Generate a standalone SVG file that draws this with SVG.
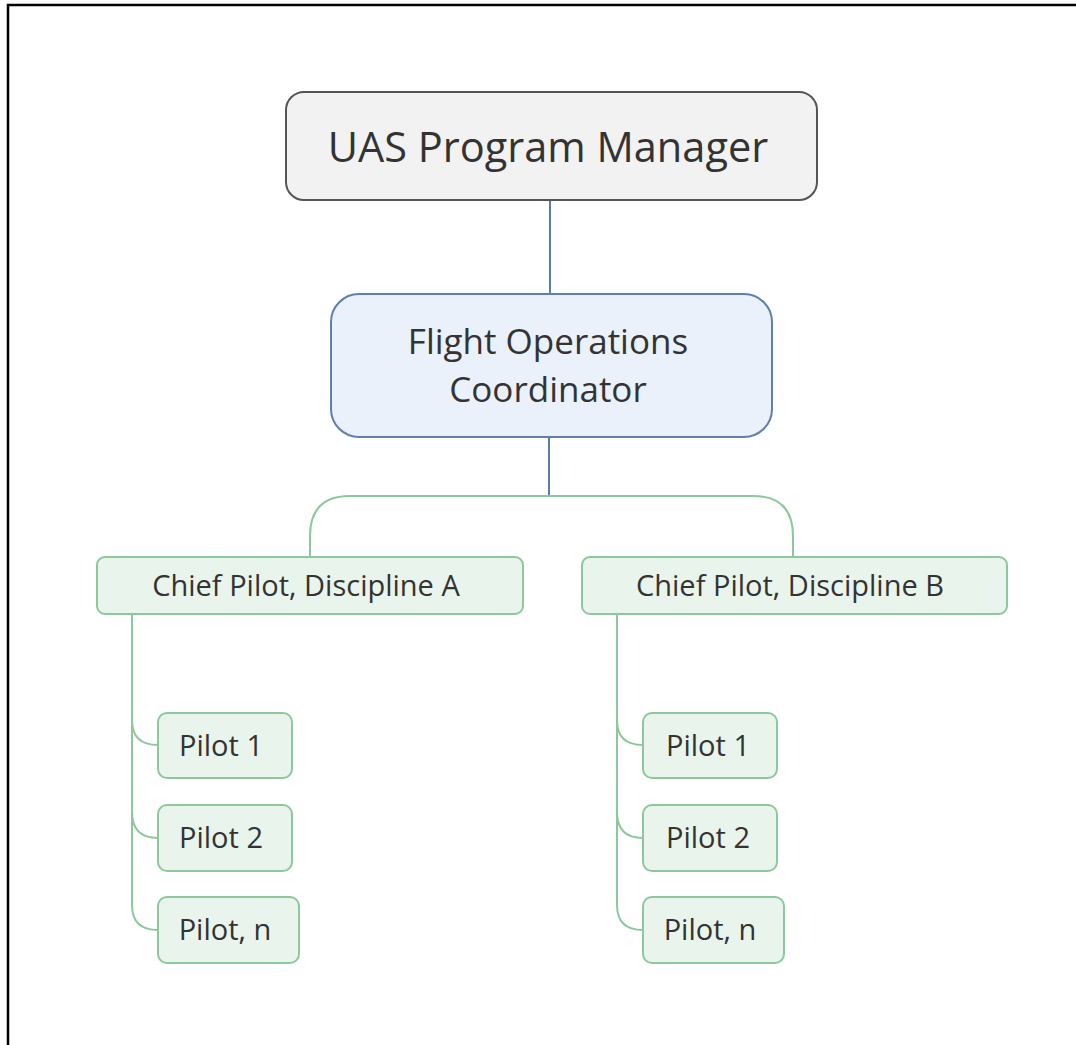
<svg xmlns="http://www.w3.org/2000/svg" width="1076" height="1045" viewBox="0 0 1076 1045">
  <style>
    text { font-family: "Open Sans", "Noto Sans", "Liberation Sans", sans-serif; fill: #333333; text-anchor: middle; }
    .root rect { fill: #f2f2f2; stroke: #555555; stroke-width: 2; }
    .coord rect { fill: #eaf1fb; stroke: #5d80ad; stroke-width: 2; }
    .leaf rect { fill: #e9f5ec; stroke: #8dc89c; stroke-width: 2; }
    .blue { fill: none; stroke: #5a7ca8; stroke-width: 2; }
    .green { fill: none; stroke: #8dc89c; stroke-width: 2; }
    .big { font-size: 41.5px; }
    .mid { font-size: 35px; }
    .small { font-size: 29px; }
  </style>

  <!-- page frame -->
  <rect x="0" y="0" width="1076" height="1045" fill="#ffffff"/>
  <path d="M8 1045 V5 H1076" fill="none" stroke="#000000" stroke-width="2.5"/>

  <g id="connectors">
    <line class="blue" x1="550" y1="200" x2="550" y2="294"/>
    <line class="blue" x1="549" y1="437" x2="549" y2="496"/>
    <path class="green" d="M549 496 H350 Q310 496 310 536 V557"/>
    <path class="green" d="M549 496 H753 Q793 496 793 536 V557"/>
    <!-- discipline A pilots -->
    <path class="green" d="M132 614 V720 Q132 745 158 745"/>
    <path class="green" d="M132 675 V812 Q132 838 158 838"/>
    <path class="green" d="M132 675 V905 Q132 930 158 930"/>
    <!-- discipline B pilots -->
    <path class="green" d="M617 614 V720 Q617 745 643 745"/>
    <path class="green" d="M617 675 V812 Q617 838 643 838"/>
    <path class="green" d="M617 675 V905 Q617 930 643 930"/>
  </g>

  <g id="program-manager" class="root">
    <rect x="286" y="92" width="531" height="108" rx="18"/>
    <text class="big" x="548" y="162">UAS Program Manager</text>
  </g>

  <g id="flight-ops" class="coord">
    <rect x="331" y="294" width="441" height="143" rx="28"/>
    <text class="mid" x="548" y="354">Flight Operations</text>
    <text class="mid" x="548" y="402">Coordinator</text>
  </g>

  <g id="chief-a" class="leaf">
    <rect x="97" y="557" width="426" height="57" rx="8"/>
    <text class="small" x="306" y="596">Chief Pilot, Discipline A</text>
  </g>
  <g id="chief-b" class="leaf">
    <rect x="582" y="557" width="425" height="57" rx="8"/>
    <text class="small" x="790" y="596">Chief Pilot, Discipline B</text>
  </g>

  <g id="a-pilot-1" class="leaf">
    <rect x="158" y="713" width="134" height="65" rx="9"/>
    <text class="small" x="221" y="756">Pilot 1</text>
  </g>
  <g id="a-pilot-2" class="leaf">
    <rect x="158" y="805" width="134" height="66" rx="9"/>
    <text class="small" x="221" y="848">Pilot 2</text>
  </g>
  <g id="a-pilot-n" class="leaf">
    <rect x="158" y="897" width="141" height="66" rx="9"/>
    <text class="small" x="225" y="940">Pilot, n</text>
  </g>

  <g id="b-pilot-1" class="leaf">
    <rect x="643" y="713" width="134" height="65" rx="9"/>
    <text class="small" x="708" y="756">Pilot 1</text>
  </g>
  <g id="b-pilot-2" class="leaf">
    <rect x="643" y="805" width="134" height="66" rx="9"/>
    <text class="small" x="708" y="848">Pilot 2</text>
  </g>
  <g id="b-pilot-n" class="leaf">
    <rect x="643" y="897" width="141" height="66" rx="9"/>
    <text class="small" x="710" y="940">Pilot, n</text>
  </g>
</svg>
